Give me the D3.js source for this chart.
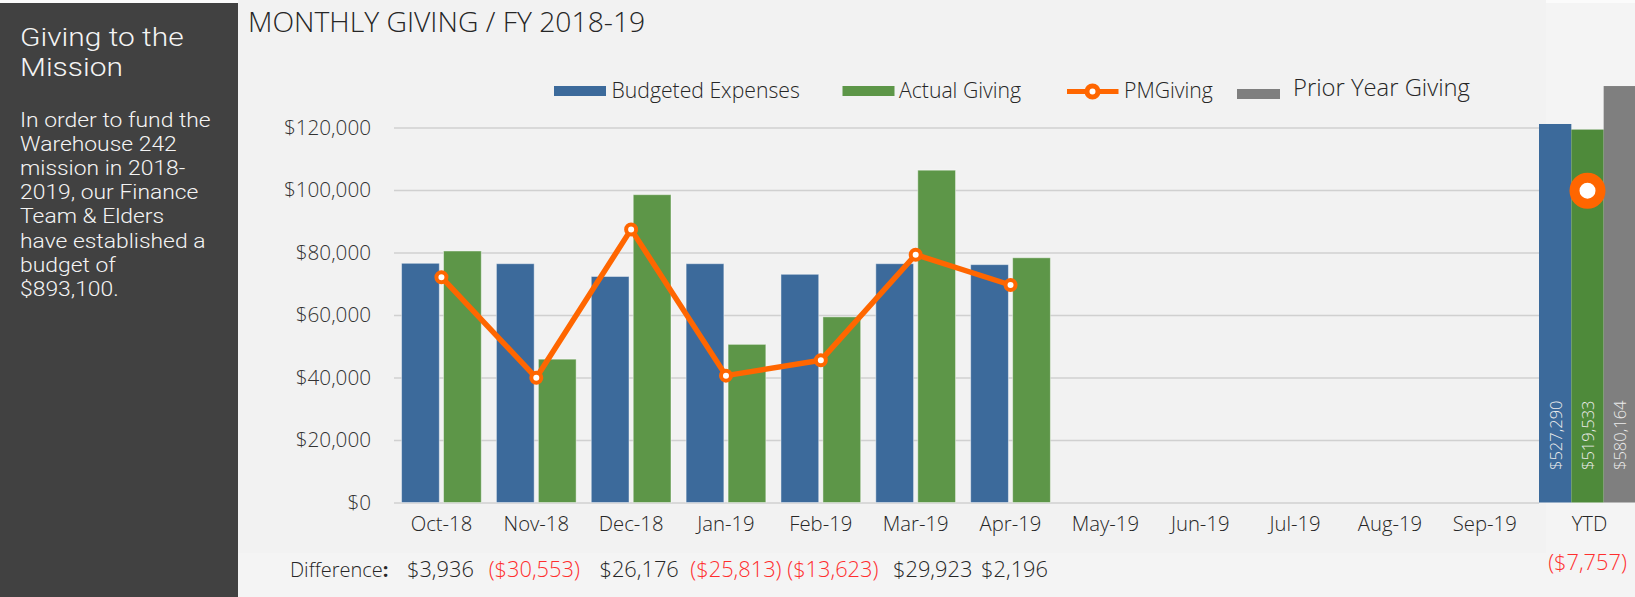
<!DOCTYPE html>
<html>
<head>
<meta charset="utf-8">
<script src="https://cdn.jsdelivr.net/npm/d3@7"></script>
<style>
  html, body { margin: 0; padding: 0; background: #fbfbfb; }
  svg { display: block; font-family: "Open Sans", Roboto, sans-serif; font-weight: 300; }
  .panel { font-family: Roboto, "Open Sans", sans-serif; font-weight: 300; }
</style>
</head>
<body>
<div id="chart"></div>
<script>
// ---- data ----
const months = ["Oct-18", "Nov-18", "Dec-18", "Jan-19", "Feb-19", "Mar-19",
                "Apr-19", "May-19", "Jun-19", "Jul-19", "Aug-19", "Sep-19"];
const budgeted = [76550, 76420, 72330, 76420, 73030, 76420, 76120];
const actual = [80486, 45867, 98506, 50607, 59407, 106343, 78316];
const pmGiving = [72100, 39900, 87400, 40600, 45500, 79300, 69600];
const differences = [3936, -30553, 26176, -25813, -13623, 29923, 2196];
const yTicks = [0, 20000, 40000, 60000, 80000, 100000, 120000];

const ytdKeys = ["Budgeted Expenses", "Actual Giving", "Prior Year Giving"];
const ytdValues = [527290, 519533, 580164];
const ytdPMGiving = 434400;
const ytdDifference = -7757;

const panelTitle = ["Giving to the", "Mission"];
const panelBody = ["In order to fund the", "Warehouse 242", "mission in 2018-",
                   "2019, our Finance", "Team & Elders", "have established a",
                   "budget of", "$893,100."];

// ---- layout / styles ----
const W = 1635, H = 597;
const colors = {
    "Budgeted Expenses": "#3c6a9b",
    "Actual Giving": "#5d9648",
    "PMGiving": "#ff6600",
    "Prior Year Giving": "#7f7f7f"
};
const ytdColors = ["#3c6a9b", "#4e8a3a", "#7f7f7f"];
const diffNudge = [-1, -2, 8, 10, 12, 17, 4];   // the difference row sits in uneven cells
const red = "#ff2e2e", ink = "#262626";

const svg = d3.select("#chart").append("svg")
    .attr("width", W)
    .attr("height", H);

// backgrounds
svg.append("rect").attr("x", 0).attr("y", 3).attr("width", W).attr("height", H - 3).attr("fill", "#f4f4f4");
svg.append("rect").attr("x", 238).attr("y", 0).attr("width", 1546 - 238).attr("height", 553).attr("fill", "#f2f2f2");
svg.append("rect").attr("x", 0).attr("y", 3).attr("width", 238).attr("height", H - 3).attr("fill", "#414141");

// side panel text
const panel = svg.append("g").attr("class", "panel").attr("fill", "#f4f4f4");
panel.selectAll(".ptitle")
    .data(panelTitle)
    .enter()
    .append("text")
    .attr("transform", (d, i) => `translate(20,${45.5 + i * 30.5}) scale(1.13,1)`)
    .style("font-size", "26.5px")
    .text(d => d);
panel.selectAll(".pbody")
    .data(panelBody)
    .enter()
    .append("text")
    .attr("transform", (d, i) => `translate(20,${127 + i * 24.1}) scale(1.09,1)`)
    .style("font-size", "21px")
    .text(d => d);

// title
svg.append("text")
    .attr("x", 248)
    .attr("y", 32)
    .style("font-size", "28.3px")
    .attr("fill", ink)
    .text("MONTHLY GIVING / FY 2018-19");

// scales
const plotLeft = 394, gridRight = 1539;
const x0 = d3.scaleBand()
    .domain(months)
    .range([plotLeft, plotLeft + 12 * 94.85]);

const barKeys = ["Budgeted Expenses", "Actual Giving"];
const barSeries = [budgeted, actual];
const x1 = d3.scaleBand()
    .domain(barKeys)
    .range([0, x0.bandwidth()])
    .paddingInner(0.1)
    .paddingOuter(0.18);

const y = d3.scaleLinear()
    .domain([0, 120000])
    .range([502.5, 127.5]);

const xYtd = d3.scaleBand()
    .domain(ytdKeys)
    .range([gridRight, 1636]);
const yYtd = d3.scaleLinear()
    .domain([0, 600000])
    .range([502.5, 71.8]);

// y axis with gridlines
const yAxis = svg.append("g")
    .attr("transform", `translate(${plotLeft},0)`)
    .call(d3.axisLeft(y)
        .tickValues(yTicks)
        .tickFormat(d3.format("$,"))
        .tickSize(-(gridRight - plotLeft))
        .tickPadding(23));
yAxis.select(".domain").remove();
yAxis.selectAll("line").attr("stroke", "#d0d0d0").attr("stroke-width", 1.6);
yAxis.selectAll("text")
    .style("font-size", "20.7px")
    .style("font-family", "'Open Sans', Roboto, sans-serif")
    .style("font-weight", 300)
    .attr("fill", "#333");

// x axis
const xAxis = svg.append("g")
    .attr("transform", "translate(0,502.5)")
    .call(d3.axisBottom(x0).tickSize(0).tickPadding(14));
xAxis.select(".domain").remove();
xAxis.selectAll("text")
    .style("font-size", "20.3px")
    .style("font-family", "'Open Sans', Roboto, sans-serif")
    .style("font-weight", 300)
    .attr("fill", ink);

// monthly bars
barKeys.forEach((key, k) => {
    svg.append("g")
        .selectAll("rect")
        .data(barSeries[k])
        .enter()
        .append("rect")
        .attr("x", (d, i) => x0(months[i]) + x1(key))
        .attr("y", d => y(d))
        .attr("width", x1.bandwidth())
        .attr("height", d => y(0) - y(d))
        .attr("fill", colors[key])
        .attr("stroke", "rgba(255,255,255,0.45)")
        .attr("stroke-width", 1);
});

// PMGiving line
const line = d3.line()
    .x((d, i) => x0(months[i]) + x0.bandwidth() / 2)
    .y(d => y(d));
svg.append("path")
    .datum(pmGiving)
    .attr("d", line)
    .attr("fill", "none")
    .attr("stroke", colors.PMGiving)
    .attr("stroke-width", 5.5)
    .attr("stroke-linejoin", "round");
svg.append("g")
    .selectAll("circle")
    .data(pmGiving)
    .enter()
    .append("circle")
    .attr("cx", (d, i) => x0(months[i]) + x0.bandwidth() / 2)
    .attr("cy", d => y(d))
    .attr("r", 5)
    .attr("fill", "#fff")
    .attr("stroke", colors.PMGiving)
    .attr("stroke-width", 4);

// YTD bars
svg.append("g")
    .selectAll("rect")
    .data(ytdValues)
    .enter()
    .append("rect")
    .attr("x", (d, i) => xYtd(ytdKeys[i]))
    .attr("y", d => yYtd(d))
    .attr("width", xYtd.bandwidth())
    .attr("height", d => yYtd(0) - yYtd(d))
    .attr("fill", (d, i) => ytdColors[i]);

svg.append("g")
    .selectAll("text")
    .data(ytdValues)
    .enter()
    .append("text")
    .attr("transform", (d, i) =>
        `translate(${xYtd(ytdKeys[i]) + xYtd.bandwidth() / 2},470) rotate(-90)`)
    .attr("dominant-baseline", "central")
    .style("font-size", "16.5px")
    .attr("fill", "#ececec")
    .text(d => d3.format("$,")(d));

const ytdCenter = xYtd(ytdKeys[1]) + xYtd.bandwidth() / 2;
svg.append("circle")
    .attr("cx", ytdCenter)
    .attr("cy", yYtd(ytdPMGiving))
    .attr("r", 13)
    .attr("fill", "#fff")
    .attr("stroke", colors.PMGiving)
    .attr("stroke-width", 10);

svg.append("text")
    .attr("x", ytdCenter + 2)
    .attr("y", 531)
    .attr("text-anchor", "middle")
    .style("font-size", "20.3px")
    .attr("fill", ink)
    .text("YTD");

// difference row
const fmtDiff = v => v < 0 ? `($${d3.format(",")(-v)})` : `$${d3.format(",")(v)}`;
const diffLabel = svg.append("text")
    .attr("x", 290)
    .attr("y", 577)
    .style("font-size", "20px")
    .attr("fill", ink);
diffLabel.append("tspan").text("Difference");
diffLabel.append("tspan").style("font-weight", 700).text(":");

svg.append("g")
    .selectAll("text")
    .data(differences)
    .enter()
    .append("text")
    .attr("x", (d, i) => x0(months[i]) + x0.bandwidth() / 2 + diffNudge[i])
    .attr("y", 577)
    .attr("text-anchor", "middle")
    .style("font-size", "21.8px")
    .attr("fill", d => d < 0 ? red : ink)
    .text(fmtDiff);

svg.append("text")
    .attr("x", ytdCenter)
    .attr("y", 570)
    .attr("text-anchor", "middle")
    .style("font-size", "21.8px")
    .attr("fill", ytdDifference < 0 ? red : ink)
    .text(fmtDiff(ytdDifference));

// legend
const legend = svg.append("g");
function swatch(x, yTop, w, h, color) {
    legend.append("rect").attr("x", x).attr("y", yTop).attr("width", w).attr("height", h).attr("fill", color);
}
function legendText(x, yBase, size, label) {
    legend.append("text").attr("x", x).attr("y", yBase)
        .style("font-size", size).attr("fill", ink).text(label);
}
swatch(554, 86, 52, 10, colors["Budgeted Expenses"]);
legendText(611.5, 98, "21.2px", "Budgeted Expenses");
swatch(842.5, 86, 52, 10, colors["Actual Giving"]);
legendText(899, 98, "21.2px", "Actual Giving");
legend.append("line")
    .attr("x1", 1067).attr("x2", 1118.5)
    .attr("y1", 91.5).attr("y2", 91.5)
    .attr("stroke", colors.PMGiving).attr("stroke-width", 5);
legend.append("circle")
    .attr("cx", 1092.5).attr("cy", 91.5).attr("r", 5.5)
    .attr("fill", "#fff").attr("stroke", colors.PMGiving).attr("stroke-width", 5);
legendText(1124, 98, "21.2px", "PMGiving");
swatch(1237, 89, 43, 10, colors["Prior Year Giving"]);
legendText(1293, 96, "23.8px", "Prior Year Giving");
</script>
</body>
</html>
